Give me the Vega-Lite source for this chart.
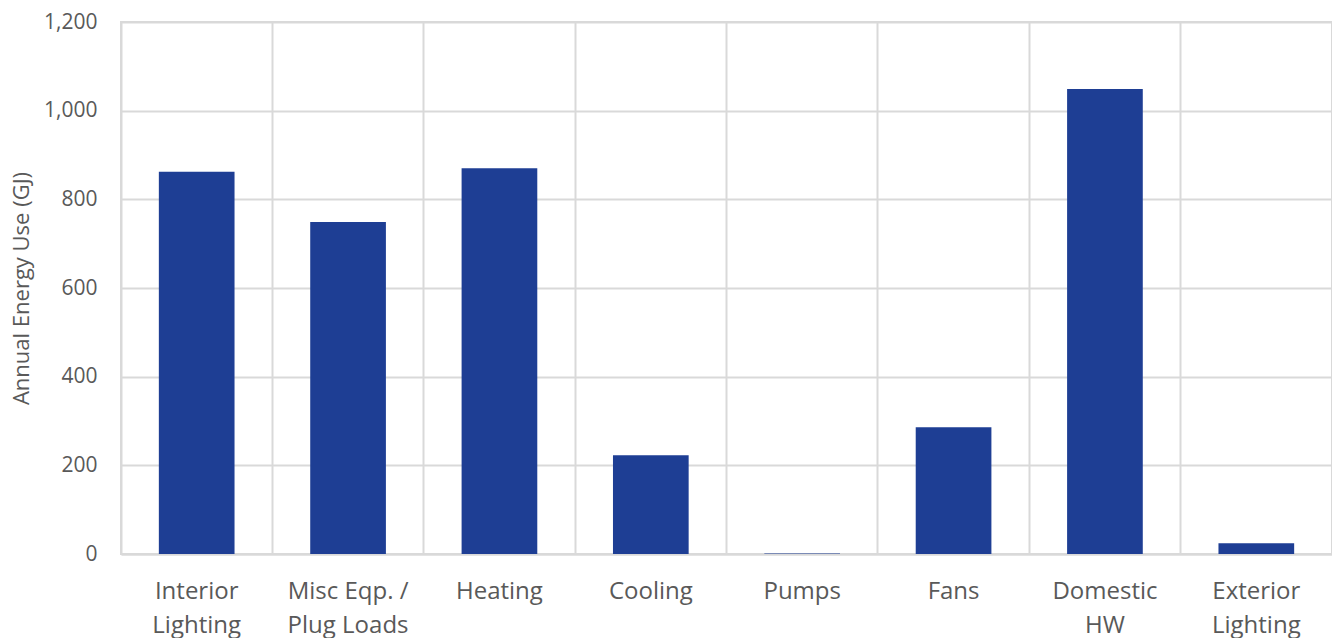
{
  "$schema": "https://vega.github.io/schema/vega-lite/v6.json",
  "width": 1211,
  "height": 532,
  "autosize": "none",
  "padding": {"left": 121, "top": 22, "right": 0, "bottom": 84},
  "background": "white",
  "config": {
    "view": {"stroke": "#d9d9d9", "strokeWidth": 2},
    "font": "Open Sans"
  },
  "data": {
    "values": [
      {"category": "Interior Lighting", "energy": 862},
      {"category": "Misc Eqp. / Plug Loads", "energy": 749},
      {"category": "Heating", "energy": 870},
      {"category": "Cooling", "energy": 223},
      {"category": "Pumps", "energy": 1},
      {"category": "Fans", "energy": 286},
      {"category": "Domestic HW", "energy": 1049},
      {"category": "Exterior Lighting", "energy": 24}
    ]
  },
  "mark": {"type": "bar", "color": "#1e3e94", "width": {"band": 0.5}},
  "encoding": {
    "x": {
      "field": "category",
      "type": "nominal",
      "sort": null,
      "scale": {"paddingInner": 0, "paddingOuter": 0},
      "axis": {
        "title": null,
        "labelAngle": 0,
        "bandPosition": 0,
        "grid": true,
        "gridColor": "#d9d9d9",
        "gridWidth": 2,
        "ticks": false,
        "domainColor": "#d9d9d9",
        "domainWidth": 2,
        "labelFont": "Open Sans",
        "labelFontSize": 24,
        "labelColor": "#595959",
        "labelPadding": 25,
        "labelLineHeight": 34,
        "labelExpr": "datum.value == 'Misc Eqp. / Plug Loads' ? ['Misc Eqp. /', 'Plug Loads'] : split(datum.value, ' ')"
      }
    },
    "y": {
      "field": "energy",
      "type": "quantitative",
      "scale": {"domain": [0, 1200], "nice": false},
      "axis": {
        "title": "Annual Energy Use (GJ)",
        "titleFont": "Open Sans",
        "titleFontSize": 22,
        "titleFontWeight": "normal",
        "titleColor": "#595959",
        "titlePadding": 10,
        "values": [0, 200, 400, 600, 800, 1000, 1200],
        "format": ",d",
        "domain": false,
        "ticks": false,
        "grid": true,
        "gridColor": "#d9d9d9",
        "gridWidth": 2,
        "labelFont": "Open Sans",
        "labelFontSize": 21,
        "labelColor": "#595959",
        "labelPadding": 24
      }
    }
  }
}
